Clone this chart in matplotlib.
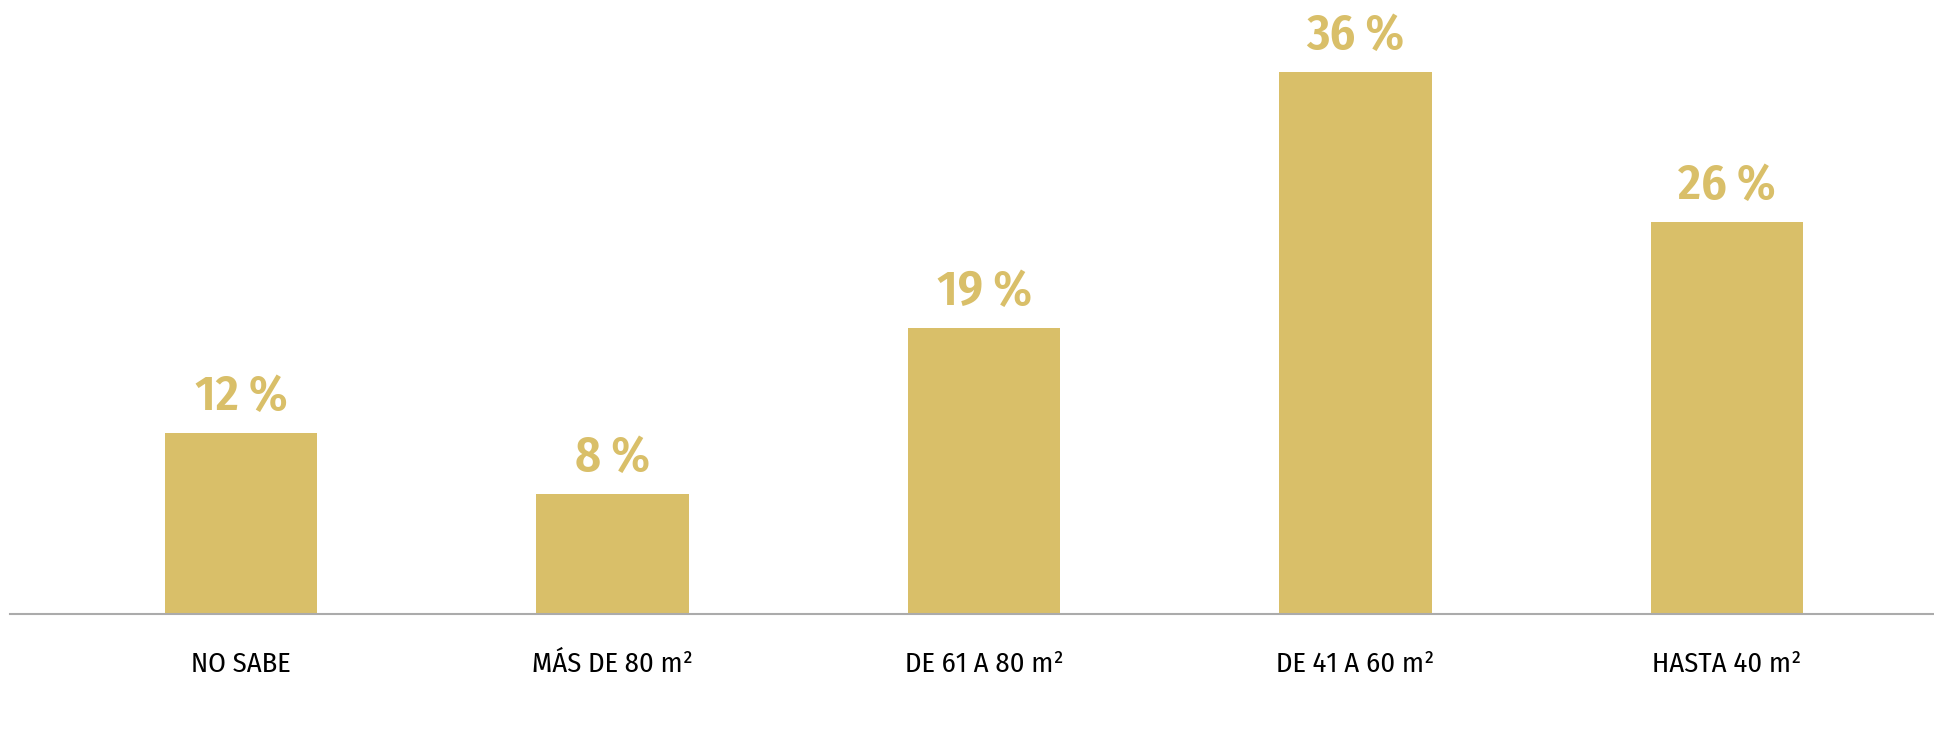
import matplotlib
matplotlib.use("Agg")
import matplotlib.pyplot as plt
from matplotlib import font_manager

categories = ["NO SABE", "MÁS DE 80 m²", "DE 61 A 80 m²", "DE 41 A 60 m²", "HASTA 40 m²"]
values = [12, 8, 19, 36, 26]

gold = "#D9BF69"

# pick a condensed face if one is installed
names = {f.name for f in font_manager.fontManager.ttflist}
family = "DejaVu Sans"
for cand in ["Fira Sans Condensed", "Roboto Condensed", "Archivo Narrow", "Asap Condensed"]:
    if cand in names:
        family = cand
        break
plt.rcParams['font.family'] = [family, "DejaVu Sans"]

W, H, dpi = 1934, 755, 100
fig = plt.figure(figsize=(W / dpi, H / dpi), dpi=dpi)
base_px = 614
ax = fig.add_axes([10 / W, (H - base_px) / H, 1 - 10 / W, base_px / H])

x = list(range(len(values)))
ax.bar(x, values, width=0.41, color=gold, zorder=2)
ax.set_xlim(-0.622, 4.557)
ax.set_ylim(0, base_px / 15.06)

for xi, v in zip(x, values):
    ax.annotate(f"{v}\u2009%", (xi, v), xytext=(0, 23), textcoords="offset pixels",
                ha="center", va="baseline", fontsize=36, fontweight=600, color=gold)

for xi, c in zip(x, categories):
    ax.annotate(c, (xi, 0), xytext=(0, -58), textcoords="offset pixels",
                ha="center", va="baseline", fontsize=20.5, color="black")

ax.set_xticks([])
ax.set_yticks([])
for s in ["top", "right", "left"]:
    ax.spines[s].set_visible(False)
ax.spines["bottom"].set_color("#ababab")
ax.spines["bottom"].set_linewidth(1.5)
ax.spines["bottom"].set_zorder(3)

fig.savefig("out.png", dpi=dpi)
